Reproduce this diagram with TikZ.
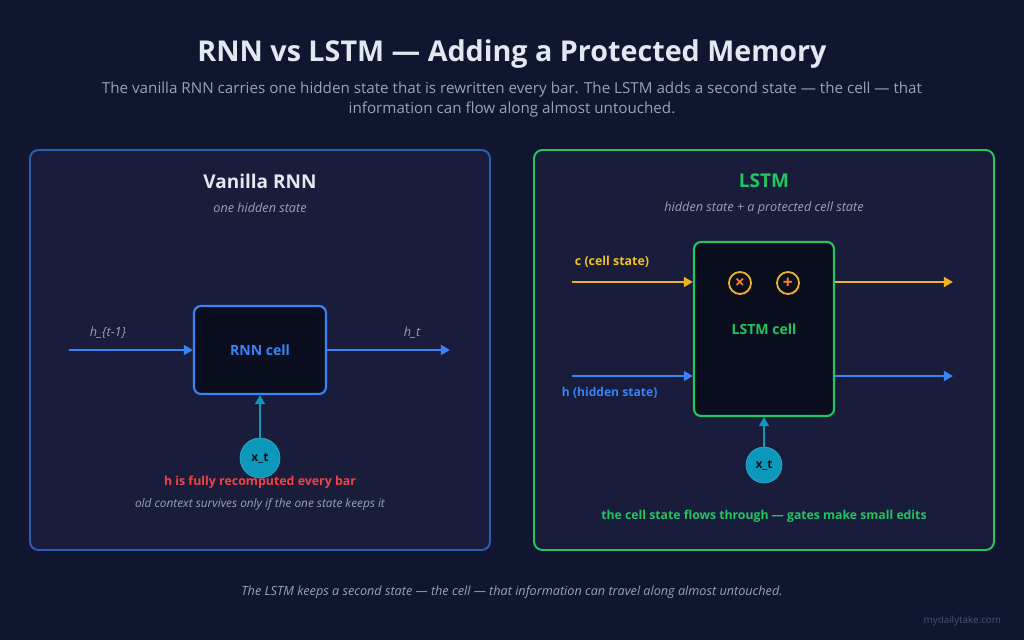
\documentclass[tikz,border=0pt]{standalone}
\usepackage{fontspec}
\setmainfont{Open Sans}
\usetikzlibrary{positioning, arrows.meta, calc}
\definecolor{pagebg}{RGB}{16, 22, 48}
\definecolor{panelbg}{RGB}{25, 29, 59}
\definecolor{cellbg}{RGB}{11, 14, 30}
\definecolor{lighttext}{RGB}{226, 232, 240}
\definecolor{mutedtext}{RGB}{148, 163, 184}
\definecolor{dimtext}{RGB}{72, 82, 112}
\definecolor{rnnblue}{RGB}{59, 130, 246}
\definecolor{panelblue}{RGB}{44, 92, 176}
\definecolor{lstmgreen}{RGB}{34, 197, 94}
\definecolor{cellyellow}{RGB}{236, 178, 40}
\definecolor{oporange}{RGB}{249, 130, 40}
\definecolor{inputteal}{RGB}{12, 152, 186}
\definecolor{alertred}{RGB}{239, 68, 68}

\begin{document}
\begin{tikzpicture}[
    x=0.025cm, y=-0.025cm,
    panel/.style={line width=1.4pt, fill=panelbg, rounded corners=6pt},
    cellbox/.style={draw, fill=cellbg, line width=1.5pt, rounded corners=5pt, font=\fontsize{10}{12}\selectfont\bfseries},
    inputdot/.style={circle, fill=inputteal, draw=inputteal!80!white, minimum size=1cm, inner sep=0pt, text=cellbg, font=\fontsize{8.5}{10}\selectfont\bfseries},
    opdot/.style={circle, draw=cellyellow, line width=1.3pt, minimum size=0.55cm, inner sep=0pt, text=oporange, font=\fontsize{12.5}{12}\selectfont\bfseries},
    flow/.style={line width=2pt, -{Triangle[length=6.5pt, width=7pt]}},
    note/.style={text=mutedtext, font=\fontsize{9}{10}\selectfont\itshape}
]
    % Fondo
    \useasboundingbox[fill=pagebg] (0,0) rectangle (1024,640);

    % Titulo
    \node[text=lighttext, font=\fontsize{20.4}{24}\selectfont\bfseries] (title) at (512,54) {RNN vs LSTM — Adding a Protected Memory};
    \node[text=mutedtext, align=center, font=\fontsize{10.8}{14.2}\selectfont] (subtitle) at (512,100)
        {The vanilla RNN carries one hidden state that is rewritten every bar. The LSTM adds a second state — the cell — that\\information can flow along almost untouched.};

    % Paneles
    \draw[panel, draw=panelblue] (30,150) rectangle (490,550);
    \draw[panel, draw=lstmgreen] (534,150) rectangle (994,550);

    % Panel 1: Vanilla RNN
    \node[text=lighttext, font=\fontsize{13.5}{15}\selectfont\bfseries] (rnntitle) at (260,181) {Vanilla RNN};
    \node[note] (rnnsub) at (260,208) {one hidden state};
    \node[cellbox, draw=rnnblue, text=rnnblue, minimum width=3.3cm, minimum height=2.2cm] (rnn) at (260,350) {RNN cell};
    \coordinate (hprev) at (69,350);
    \coordinate (hnext) at (450,350);
    \draw[flow, rnnblue] (hprev) -- (rnn.west);
    \draw[flow, rnnblue] (rnn.east) -- (hnext);
    \node[note] (hprevlbl) at (108,333) {h\_\{t-1\}};
    \node[note] (hnextlbl) at (412,333) {h\_t};
    \node[inputdot] (xrnn) at (260,458) {x\_t};
    \draw[flow, inputteal] (xrnn) -- (rnn);
    \node[text=alertred, font=\fontsize{8.8}{11}\selectfont\bfseries] (rnnwarn) at (260,482) {h is fully recomputed every bar};
    \node[note, font=\fontsize{8.4}{10}\selectfont\itshape] (rnnnote) at (260,504) {old context survives only if the one state keeps it};

    % Panel 2: LSTM
    \node[text=lstmgreen, font=\fontsize{13.5}{15}\selectfont\bfseries] (lstmtitle) at (764,181) {LSTM};
    \node[note] (lstmsub) at (764,208) {hidden state + a protected cell state};
    \node[cellbox, draw=lstmgreen, text=lstmgreen, minimum width=3.5cm, minimum height=4.35cm] (lstm) at (764,329) {LSTM cell};
    \coordinate (cin) at (572,282);
    \coordinate (cout) at (953,282);
    \coordinate (hin) at (572,376);
    \coordinate (hout) at (953,376);
    \draw[flow, cellyellow] (cin) -- (cin -| lstm.west);
    \draw[flow, cellyellow] (cin -| lstm.east) -- (cout);
    \draw[flow, rnnblue] (hin) -- (hin -| lstm.west);
    \draw[flow, rnnblue] (hin -| lstm.east) -- (hout);
    \node[text=cellyellow!80!yellow, anchor=west, font=\fontsize{8.8}{11}\selectfont\bfseries] (clbl) at (570,262) {c (cell state)};
    \node[text=rnnblue, anchor=west, font=\fontsize{8.6}{11}\selectfont\bfseries] (hlbl) at (557,393) {h (hidden state)};
    \node[opdot] (forget) at (740,283) {×};
    \node[opdot] (add) at (788,283) {+};
    \node[inputdot, minimum size=0.9cm] (xlstm) at (764,465) {x\_t};
    \draw[flow, inputteal] (xlstm) -- (lstm);
    \node[text=lstmgreen, font=\fontsize{8.7}{11}\selectfont\bfseries] (lstmnote) at (764,516) {the cell state flows through — gates make small edits};

    % Pie
    \node[note] (footer) at (512,592) {The LSTM keeps a second state — the cell — that information can travel along almost untouched.};
    \node[text=dimtext, anchor=east, font=\fontsize{7}{8}\selectfont] (mark) at (1006,621) {mydailytake.com};
\end{tikzpicture}
\end{document}
